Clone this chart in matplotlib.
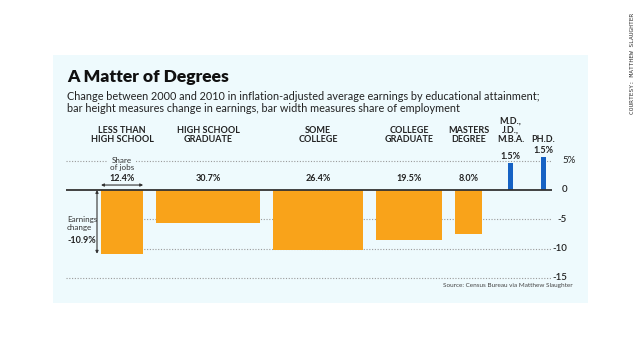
import matplotlib
matplotlib.use("Agg")
import matplotlib.pyplot as plt
from matplotlib.patches import Rectangle
import numpy as np

plt.rcParams['font.family'] = ['Lato', 'DejaVu Sans']

# ---- data ----
categories = ["LESS THAN\nHIGH SCHOOL", "HIGH SCHOOL\nGRADUATE", "SOME\nCOLLEGE",
              "COLLEGE\nGRADUATE", "MASTERS\nDEGREE", "M.D.,\nJ.D.,\nM.B.A.", "PH.D."]
share_of_jobs = [12.4, 30.7, 26.4, 19.5, 8.0, 1.5, 1.5]          # bar width (%)
earnings_change = [-10.9, -5.7, -10.2, -8.6, -7.6, 4.6, 5.7]     # bar height (%)
share_labels = ["12.4%", "30.7%", "26.4%", "19.5%", "8.0%", "1.5%", "1.5%"]
ytick_vals = [5, 0, -5, -10, -15]
ytick_labels = ["5%", "0", "-5", "-10", "-15"]

# ---- layout (gaps between bars, in share units) ----
gaps = [10, 3.8, 3.8, 3.8, 3.8, 7.5, 8.2]
lefts = np.cumsum(np.array(gaps) + np.concatenate([[0], share_of_jobs[:-1]]))
centers = lefts + np.array(share_of_jobs) / 2

W, H = 640, 360
fig = plt.figure(figsize=(6.4, 3.6), dpi=100, facecolor="white")
panel_col = "#eefafd"
fig.patches.append(Rectangle((53 / W, 1 - 303 / H), (588 - 53) / W, (303 - 55) / H,
                             transform=fig.transFigure, facecolor=panel_col,
                             edgecolor="none", zorder=-5))

ax_l, ax_r = 66, 552
ytop, ybot = 6, -16
ppu = 5.85
xscale = 3.4
ax = fig.add_axes([ax_l / W, 1 - (190 + 16 * ppu) / H, (ax_r - ax_l) / W, 22 * ppu / H])
ax.set_zorder(2)
ax.set_facecolor("none")
ax.set_xlim(-(67 - ax_l) / xscale, (ax_r - 67) / xscale)
ax.set_ylim(ybot, ytop)
for s in ax.spines.values():
    s.set_visible(False)
ax.set_xticks([])
ax.set_yticks([])

# gridlines
for v in ytick_vals:
    if v == 0:
        ax.axhline(0, color="#333333", lw=1.3, zorder=3)
    else:
        ax.axhline(v, color="#9a9a9a", lw=0.8, ls=(0, (1, 1.5)), zorder=1)

colors = ["#f9a31a" if v < 0 else "#1662c4" for v in earnings_change]
ax.bar(lefts, earnings_change, width=share_of_jobs, align="edge", color=colors, zorder=2)

# right tick labels
trans = ax.get_yaxis_transform()
span = ax_r - ax_l
for v, lab in zip(ytick_vals, ytick_labels):
    if lab.endswith("%"):
        ax.text(1.0 + 10 / span, v, lab, transform=trans, ha="left", va="center",
                fontsize=7, color="#222222")
    else:
        ax.text(1.0 + 15 / span, v, lab, transform=trans, ha="right", va="center",
                fontsize=7, fontweight="semibold", color="#222222")

# category labels
for c, cat in zip(centers, categories):
    ax.text(c, (190 - 144) / ppu, cat, ha="center", va="bottom", fontsize=6.5,
            fontweight="bold", color="#222222", linespacing=1.05)

# share labels
for c, lab, v in zip(centers, share_labels, earnings_change):
    if v < 0:
        ax.text(c, 2.05, lab, ha="center", va="center", fontsize=6.5,
                fontweight="bold", color="#222222")
    else:
        ax.text(c, v + 0.35, lab, ha="center", va="bottom", fontsize=6.5,
                fontweight="bold", color="#222222")

# "Share of jobs" annotation
ax.text(centers[0], 4.36, "Share\nof jobs", ha="center", va="center", fontsize=5.8,
        color="#333333", linespacing=1.0,
        bbox=dict(facecolor=panel_col, edgecolor="none", pad=1.5), zorder=4)
ax.annotate("", xy=(lefts[0], 0.85), xytext=(lefts[0] + share_of_jobs[0], 0.85),
            arrowprops=dict(arrowstyle="<|-|>", color="#333333", lw=0.8,
                            mutation_scale=4, shrinkA=0, shrinkB=0))

# "Earnings change" annotation (mask gridlines left of the first bar)
xv = (97 - 67) / xscale
ax.add_patch(Rectangle((ax.get_xlim()[0], earnings_change[0]), lefts[0] - ax.get_xlim()[0] - 0.05,
                       -earnings_change[0] - 0.3, facecolor=panel_col, edgecolor="none",
                       zorder=1.5))
ax.annotate("", xy=(xv, 0), xytext=(xv, earnings_change[0]),
            arrowprops=dict(arrowstyle="<|-|>", color="#333333", lw=0.8,
                            mutation_scale=4, shrinkA=0, shrinkB=0), zorder=4)
ax.text(0, -5.8, "Earnings\nchange", ha="left", va="center", fontsize=5.8,
        color="#333333", linespacing=1.15, zorder=4)
ax.text(0, -8.6, "-10.9%", ha="left", va="center", fontsize=6.5,
        fontweight="bold", color="#222222", zorder=4)

# title and subtitle
fig.text(67 / W, 1 - 77 / H, "A Matter of Degrees", ha="left", va="center",
         fontsize=12.6, fontweight="heavy", color="#111111")
fig.text(67 / W, 1 - 96 / H,
         "Change between 2000 and 2010 in inflation-adjusted average earnings by educational attainment;",
         ha="left", va="center", fontsize=7.85, color="#222222")
fig.text(67 / W, 1 - 109 / H,
         "bar height measures change in earnings, bar width measures share of employment",
         ha="left", va="center", fontsize=7.85, color="#222222")

# source
fig.text(573 / W, 1 - 285 / H, "Source: Census Bureau via Matthew Slaughter", ha="right",
         va="center", fontsize=4.6, color="#444444")

# courtesy
fig.text(633 / W, 1 - 63 / H, "COURTESY: MATTHEW SLAUGHTER", rotation=90, ha="center",
         va="center", fontsize=4.5, family="DejaVu Sans Mono", color="#333333")

fig.savefig("out.png", dpi=100, facecolor="white")
